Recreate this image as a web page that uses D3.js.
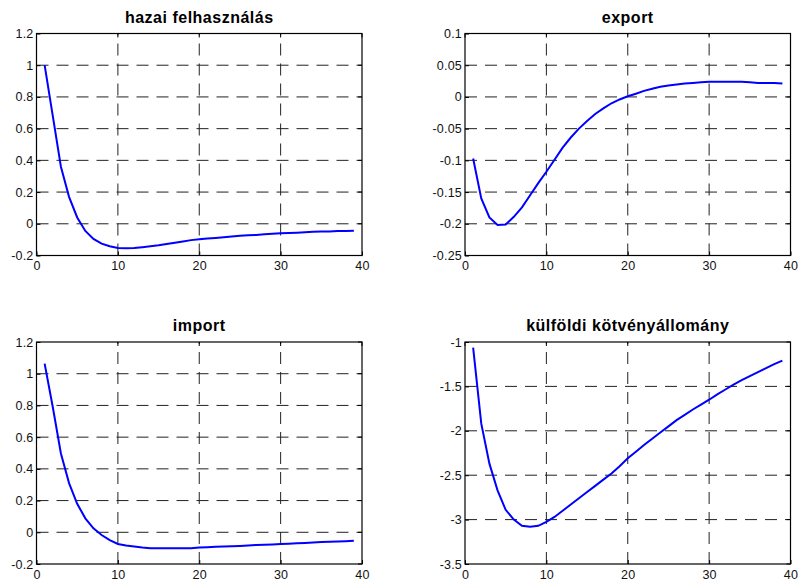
<!DOCTYPE html>
<html>
<head>
<meta charset="utf-8">
<script src="https://cdn.jsdelivr.net/npm/d3@7"></script>
<style>
  body { margin: 0; background: #fff; }
  svg text { font-family: Arial, "Liberation Sans", sans-serif; }
</style>
</head>
<body>
<svg id="chart" width="798" height="583"></svg>
<script>
const periods = d3.range(1, 40);

const hazai = [1.0, 0.68, 0.36, 0.17, 0.04, -0.045, -0.095, -0.125, -0.142, -0.152,
  -0.154, -0.153, -0.148, -0.142, -0.136, -0.128, -0.119, -0.111, -0.103, -0.097,
  -0.093, -0.089, -0.085, -0.08, -0.076, -0.073, -0.07, -0.066, -0.063, -0.06,
  -0.058, -0.056, -0.054, -0.051, -0.049, -0.048, -0.046, -0.045, -0.044];

const exportSeries = [-0.097, -0.16, -0.19, -0.202, -0.201, -0.189, -0.174, -0.155, -0.136, -0.118,
  -0.099, -0.08, -0.064, -0.05, -0.038, -0.027, -0.018, -0.01, -0.004, 0.001,
  0.005, 0.0095, 0.013, 0.016, 0.018, 0.0195, 0.021, 0.022, 0.023, 0.024,
  0.024, 0.024, 0.024, 0.024, 0.023, 0.022, 0.022, 0.022, 0.021];

const importSeries = [1.064, 0.79, 0.497, 0.31, 0.18, 0.088, 0.025, -0.017, -0.049, -0.074,
  -0.084, -0.09, -0.096, -0.1, -0.101, -0.101, -0.101, -0.101, -0.1, -0.096,
  -0.094, -0.092, -0.09, -0.088, -0.086, -0.083, -0.08, -0.079, -0.077, -0.074,
  -0.072, -0.069, -0.067, -0.065, -0.062, -0.06, -0.058, -0.056, -0.053];

const kotveny = [-1.064, -1.92, -2.37, -2.67, -2.89, -3.0, -3.07, -3.08, -3.07, -3.025,
  -2.97, -2.9, -2.83, -2.76, -2.69, -2.62, -2.55, -2.48, -2.4, -2.31,
  -2.235, -2.16, -2.09, -2.02, -1.95, -1.88, -1.82, -1.76, -1.705, -1.65,
  -1.59, -1.535, -1.48, -1.43, -1.385, -1.34, -1.295, -1.25, -1.21];

const titles = ["hazai felhasználás", "export", "import", "külföldi kötvényállomány"];
const xTicks = [0, 10, 20, 30, 40];
const yTicksHazai = [-0.2, 0, 0.2, 0.4, 0.6, 0.8, 1, 1.2];
const yTicksExport = [-0.25, -0.2, -0.15, -0.1, -0.05, 0, 0.05, 0.1];
const yTicksImport = [-0.2, 0, 0.2, 0.4, 0.6, 0.8, 1, 1.2];
const yTicksKotveny = [-3.5, -3, -2.5, -2, -1.5, -1];

const panels = [
  {title: titles[0], values: hazai, yTicks: yTicksHazai, col: 0, row: 0},
  {title: titles[1], values: exportSeries, yTicks: yTicksExport, col: 1, row: 0},
  {title: titles[2], values: importSeries, yTicks: yTicksImport, col: 0, row: 1},
  {title: titles[3], values: kotveny, yTicks: yTicksKotveny, col: 1, row: 1}
];

const svg = d3.select("#chart");
const lefts = [36.5, 465];
const tops = [33.5, 342];
const w = 325.5, h = 222;

const fmt = v => String(+v.toFixed(3));

panels.forEach(p => {
  const g = svg.append("g")
    .attr("transform", `translate(${lefts[p.col]},${tops[p.row]})`);

  const x = d3.scaleLinear().domain([0, 40]).range([0, w]);
  const y = d3.scaleLinear().domain(d3.extent(p.yTicks)).range([h, 0]);

  // dashed grid, interior ticks only
  g.selectAll(".vgrid")
    .data(xTicks.slice(1, -1))
    .join("line")
    .attr("x1", d => x(d)).attr("x2", d => x(d))
    .attr("y1", h).attr("y2", 0)
    .attr("stroke", "#222").attr("stroke-width", 1)
    .attr("stroke-dasharray", "12,8");

  g.selectAll(".hgrid")
    .data(p.yTicks.slice(1, -1))
    .join("line")
    .attr("x1", 0).attr("x2", w)
    .attr("y1", d => y(d)).attr("y2", d => y(d))
    .attr("stroke", "#222").attr("stroke-width", 1)
    .attr("stroke-dasharray", "12,8");

  // inward ticks, MATLAB style
  const xAxis = d3.axisBottom(x).tickValues(xTicks).tickSize(-4).tickPadding(6).tickFormat(fmt);
  const yAxis = d3.axisLeft(y).tickValues(p.yTicks).tickSize(-4).tickPadding(3).tickFormat(fmt);

  const gx = g.append("g").attr("transform", `translate(0,${h})`).call(xAxis);
  const gy = g.append("g").call(yAxis);
  [gx, gy].forEach(a => {
    a.select(".domain").remove();
    a.selectAll("line").attr("stroke", "#000");
    a.selectAll("text").attr("fill", "#111")
      .style("font-size", "12.5px").style("letter-spacing", "0.2px");
  });

  g.selectAll(".rtick")
    .data(p.yTicks)
    .join("line")
    .attr("x1", w).attr("x2", w - 4)
    .attr("y1", d => y(d)).attr("y2", d => y(d))
    .attr("stroke", "#000");
  g.selectAll(".ttick")
    .data(xTicks)
    .join("line")
    .attr("x1", d => x(d)).attr("x2", d => x(d))
    .attr("y1", 0).attr("y2", 4)
    .attr("stroke", "#000");

  g.append("rect")
    .attr("width", w).attr("height", h)
    .attr("fill", "none").attr("stroke", "#000").attr("stroke-width", 1.2);

  const line = d3.line()
    .x((d, i) => x(periods[i]))
    .y(d => y(d));

  g.append("path")
    .datum(p.values)
    .attr("d", line)
    .attr("fill", "none")
    .attr("stroke", "#0000ff")
    .attr("stroke-width", 2);

  g.append("text")
    .attr("x", w / 2).attr("y", -11)
    .attr("text-anchor", "middle")
    .style("font-size", "16px").style("font-weight", "bold")
    .style("letter-spacing", "0.5px")
    .attr("fill", "#000")
    .text(p.title);
});
</script>
</body>
</html>
